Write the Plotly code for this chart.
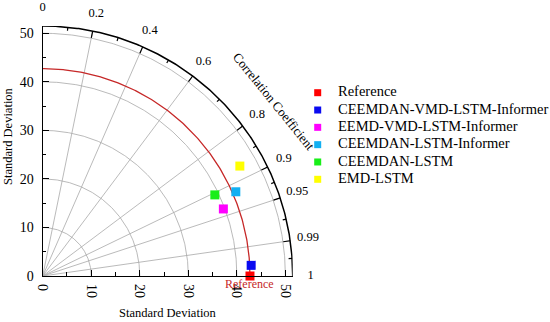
import numpy as np
import plotly.graph_objects as go

# ---------------- data ----------------
model_names = ["Reference", "CEEMDAN-VMD-LSTM-Informer", "EEMD-VMD-LSTM-Informer",
               "CEEMDAN-LSTM-Informer", "CEEMDAN-LSTM", "EMD-LSTM"]
std_dev = [42.7, 43.0, 39.7, 43.4, 39.2, 46.5]
corr_coef = [1.0, 0.9987, 0.9375, 0.9166, 0.9046, 0.8734]
marker_colors = ["#FF0000", "#0A0AF0", "#FF00FF", "#12B0F2", "#19EE19", "#FFFF00"]

corr_tick_values = [0, 0.2, 0.4, 0.6, 0.8, 0.9, 0.95, 0.99, 1]
corr_tick_labels = ["0", "0.2", "0.4", "0.6", "0.8", "0.9", "0.95", "0.99", "1"]
std_tick_values = [0, 10, 20, 30, 40, 50]
std_grid_values = [10, 20, 30, 40, 50]
std_max = 51.5

FONT = "Liberation Serif"
W, H = 550, 322
# plot-area pixel box
PX_L, PX_R, PX_T, PX_B = 42.7, 292.7, 26.0, 276.0
px_per_unit = (PX_R - PX_L) / std_max

ref_std = std_dev[0]


def arc(r, n=240):
    th = np.linspace(0, np.pi / 2, n)
    return list(r * np.cos(th)), list(r * np.sin(th))


fig = go.Figure()

# grey grid arcs + correlation rays
gx, gy = [], []
for r in std_grid_values:
    x, y = arc(r)
    gx += x + [None]
    gy += y + [None]
for c in corr_tick_values[1:-1]:
    th = np.arccos(c)
    gx += [0, std_max * np.cos(th), None]
    gy += [0, std_max * np.sin(th), None]
fig.add_trace(go.Scatter(x=gx, y=gy, mode="lines", line=dict(color="#A8A8A8", width=0.8),
                         hoverinfo="skip", showlegend=False))

# ticks on the outer arc (inward)
major_len = 7.0 / px_per_unit
minor_len = 3.5 / px_per_unit
angles = [np.arccos(c) for c in corr_tick_values]
tx, ty = [], []
for th in angles[1:-1]:
    tx += [std_max * np.cos(th), (std_max - major_len) * np.cos(th), None]
    ty += [std_max * np.sin(th), (std_max - major_len) * np.sin(th), None]
for a, b in zip(angles[:-1], angles[1:]):
    th = (a + b) / 2
    tx += [std_max * np.cos(th), (std_max - minor_len) * np.cos(th), None]
    ty += [std_max * np.sin(th), (std_max - minor_len) * np.sin(th), None]
fig.add_trace(go.Scatter(x=tx, y=ty, mode="lines", line=dict(color="black", width=1.2),
                         hoverinfo="skip", showlegend=False, cliponaxis=False))

# outer arc
ox, oy = arc(std_max)
fig.add_trace(go.Scatter(x=ox, y=oy, mode="lines", line=dict(color="black", width=1.5),
                         hoverinfo="skip", showlegend=False, cliponaxis=False))

# reference std arc
rx, ry = arc(ref_std)
fig.add_trace(go.Scatter(x=rx, y=ry, mode="lines", line=dict(color="#C62828", width=1.3),
                         hoverinfo="skip", showlegend=False))

# model points
for name, s, c, col in zip(model_names, std_dev, corr_coef, marker_colors):
    th = np.arccos(c)
    fig.add_trace(go.Scatter(
        x=[s * np.cos(th)], y=[s * np.sin(th)], mode="markers", name=name,
        marker=dict(symbol="square", size=9, color=col, line=dict(width=0)),
        showlegend=False, cliponaxis=False))

# correlation labels outside the arc: drawn on a full-page overlay axis with same scale
lab_r = 55.2
fig.add_trace(go.Scatter(
    x=[lab_r * np.cos(a) for a in angles], y=[lab_r * np.sin(a) for a in angles],
    mode="text", text=corr_tick_labels, textposition="middle center",
    textfont=dict(family=FONT, size=12.5, color="black"),
    xaxis="x3", yaxis="y3", hoverinfo="skip", showlegend=False, cliponaxis=False))

# custom legend (on an overlay axis pair)
fig.add_trace(go.Scatter(
    x=[0] * len(model_names), y=list(range(len(model_names))), mode="markers",
    marker=dict(symbol="square", size=7, color=marker_colors, line=dict(width=0)),
    xaxis="x2", yaxis="y2", hoverinfo="skip", showlegend=False))
fig.add_trace(go.Scatter(
    x=[1] * len(model_names), y=list(range(len(model_names))), mode="text",
    text=model_names, textposition="middle right",
    textfont=dict(family=FONT, size=14.5, color="black"),
    xaxis="x2", yaxis="y2", hoverinfo="skip", showlegend=False))

axis_common = dict(
    range=[0, std_max], showgrid=False, zeroline=False, showline=True,
    linecolor="black", linewidth=1.3, ticks="inside", ticklen=6, tickwidth=1.2,
    tickcolor="black", tickvals=std_tick_values, automargin=False,
    tickfont=dict(family=FONT, size=14, color="black"),
    minor=dict(ticks="inside", ticklen=3.5, tickwidth=1, tickcolor="black",
               dtick=5, tick0=0, showgrid=False),
)

leg_item_px = 17.32
leg_first_y = 92.7
leg_x0_px = 317.7
leg_text_px = 338.0
x2_dom = [300 / W, 1.0]
x2_unit = leg_text_px - leg_x0_px
x2_range = [-(leg_x0_px - 300) / x2_unit, (W - leg_x0_px) / x2_unit]
y2_range = [(H - leg_first_y) / leg_item_px, -leg_first_y / leg_item_px]

x3_range = [-PX_L / px_per_unit, (W - PX_L) / px_per_unit]
y3_range = [-(H - PX_B) / px_per_unit, PX_B / px_per_unit]

cc_r, cc_deg = 59.6, 37.0
annotations = [
    dict(x=ref_std, y=0, xref="x", yref="y", text="Reference", showarrow=False,
         yshift=-8, font=dict(family=FONT, size=12, color="#C62828")),
    dict(x=cc_r * np.cos(np.radians(cc_deg)), y=cc_r * np.sin(np.radians(cc_deg)),
         xref="x3", yref="y3", text="Correlation Coefficient", showarrow=False,
         textangle=51, font=dict(family=FONT, size=13, color="black")),
    dict(x=(PX_L + PX_R) / 2 / W, y=(H - 313) / H, xref="paper", yref="paper",
         text="Standard Deviation", showarrow=False, xanchor="center", yanchor="middle",
         font=dict(family=FONT, size=12.5, color="black")),
    dict(x=8 / W, y=(H - 136) / H, xref="paper", yref="paper",
         text="Standard Deviation", showarrow=False, xanchor="center", yanchor="middle",
         textangle=-90, font=dict(family=FONT, size=12.5, color="black")),
]

fig.update_layout(
    width=W, height=H, template="none",
    paper_bgcolor="white", plot_bgcolor="rgba(0,0,0,0)",
    margin=dict(l=0, r=0, t=0, b=0, autoexpand=False),
    font=dict(family=FONT, color="black"),
    xaxis=dict(axis_common, domain=[PX_L / W, PX_R / W], tickangle=90,
               ticklabelstandoff=4),
    yaxis=dict(axis_common, domain=[(H - PX_B) / H, (H - PX_T) / H],
               ticklabelstandoff=5),
    xaxis2=dict(domain=x2_dom, range=x2_range, visible=False, anchor="y2"),
    yaxis2=dict(domain=[0, 1], range=y2_range, visible=False, anchor="x2"),
    xaxis3=dict(domain=[0, 1], range=x3_range, visible=False, anchor="y3"),
    yaxis3=dict(domain=[0, 1], range=y3_range, visible=False, anchor="x3"),
    showlegend=False,
    annotations=annotations,
)

fig.write_html("out.html", config={"displayModeBar": False},
               post_script="document.body.style.margin='0';")
